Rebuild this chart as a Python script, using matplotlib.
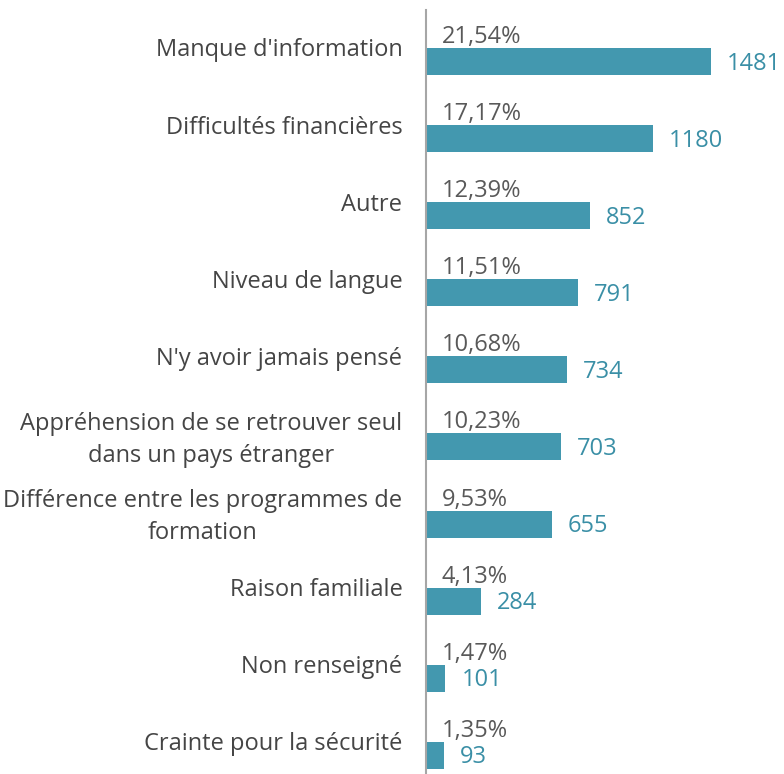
import matplotlib
matplotlib.use("Agg")
import matplotlib.pyplot as plt
from matplotlib.transforms import offset_copy

categories = [
    "Manque d'information",
    "Difficultés financières",
    "Autre",
    "Niveau de langue",
    "N'y avoir jamais pensé",
    "Appréhension de se retrouver seul\ndans un pays étranger",
    "Différence entre les programmes de\nformation",
    "Raison familiale",
    "Non renseigné",
    "Crainte pour la sécurité",
]
counts = [1481, 1180, 852, 791, 734, 703, 655, 284, 101, 93]
percents = ["21,54%", "17,17%", "12,39%", "11,51%", "10,68%", "10,23%", "9,53%", "4,13%", "1,47%", "1,35%"]

BAR = "#4398AF"
NUM = "#3A8FA6"
GRAY = "#595959"
DARK = "#454545"
FONT = "Open Sans"
FS = 17

W, H = 784, 774
fig = plt.figure(figsize=(W / 100, H / 100), dpi=100)
ax_left, ax_top = 426, 10
ax = fig.add_axes([ax_left / W, 0, (W - ax_left) / W, (H - ax_top) / H])

pitch = 77.1
first_center = 61.5 - ax_top
top = -first_center / pitch
bottom = (H - ax_top - first_center) / pitch
bar_h = 27 / pitch
px_per_unit = 285 / 1481

ys = list(range(len(categories)))
ax.barh(ys, counts, height=bar_h, color=BAR, zorder=2)
ax.set_ylim(bottom, top)
ax.set_xlim(0, (W - ax_left) / px_per_unit)

for s in ["top", "right", "bottom"]:
    ax.spines[s].set_visible(False)
ax.spines["left"].set_color("#A6A6A6")
ax.spines["left"].set_linewidth(1.5)
ax.set_xticks([])

label_off = 14 / pitch
ax.set_yticks([y - label_off for y in ys])
ax.set_yticklabels(categories, fontfamily=FONT, fontsize=FS, color=DARK,
                   multialignment="center", linespacing=1.45)
ax.tick_params(axis="y", length=0, pad=17)

for y, c, p in zip(ys, counts, percents):
    ax.text(0, y - bar_h / 2, p, fontfamily=FONT, fontsize=FS, color=GRAY,
            ha="left", va="baseline", clip_on=False,
            transform=offset_copy(ax.transData, fig=fig, x=16 * 0.72, y=5 * 0.72, units="points"))
    ax.text(c, y, str(c), fontfamily=FONT, fontsize=FS, color=NUM,
            ha="left", va="center", clip_on=False,
            transform=offset_copy(ax.transData, fig=fig, x=16 * 0.72, y=-2 * 0.72, units="points"))

fig.savefig("out.png", dpi=100)
